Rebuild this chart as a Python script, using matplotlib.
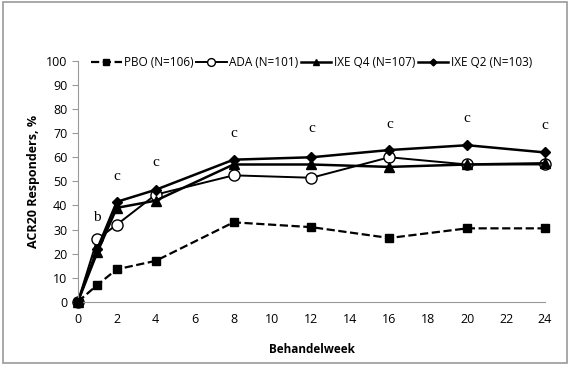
import matplotlib.pyplot as plt
from matplotlib.patches import Rectangle

# data
weeks = [0, 1, 2, 4, 8, 12, 16, 20, 24]
pbo = [0, 7, 13.5, 17, 33, 31, 26.5, 30.5, 30.5]
ada = [0, 26, 32, 44.5, 52.5, 51.5, 60, 57, 57]
ixe_q4 = [0, 20.5, 39, 42, 57, 57, 56, 57, 57.5]
ixe_q2 = [0, 22, 41.5, 46.5, 59, 60, 63, 65, 62]

sig_x = [1, 2, 4, 8, 12, 16, 20, 24]
sig_y = [35, 52, 58, 70, 72, 73.5, 76, 73]
sig_lab = ["b", "c", "c", "c", "c", "c", "c", "c"]

plt.rcParams['font.family'] = ['Open Sans', 'DejaVu Sans']

fig = plt.figure(figsize=(5.72, 3.69), dpi=100)
ax = fig.add_axes([0.136, 0.182, 0.817, 0.653])

ax.plot(weeks, pbo, color="black", ls="--", lw=1.6, marker="s", ms=6,
        label="PBO (N=106)", clip_on=False, zorder=4)
ax.plot(weeks, ada, color="black", lw=1.4, marker="o", ms=8, mfc="white",
        label="ADA (N=101)", clip_on=False)
ax.plot(weeks, ixe_q4, color="black", lw=1.8, marker="^", ms=7,
        label="IXE Q4 (N=107)", clip_on=False)
ax.plot(weeks, ixe_q2, color="black", lw=1.8, marker="D", ms=5,
        label="IXE Q2 (N=103)", clip_on=False)

for x, y, t in zip(sig_x, sig_y, sig_lab):
    ax.text(x, y, t, family="Liberation Serif", fontsize=11,
            ha="center", va="center")

ax.set_xlim(0, 24)
ax.set_ylim(0, 100)
ax.set_xticks(range(0, 25, 2))
ax.set_yticks(range(0, 101, 10))
ax.tick_params(axis="x", length=0, labelsize=9, pad=8)
ax.tick_params(axis="y", length=4, color="#999999", labelsize=9)
for s in ["top", "right"]:
    ax.spines[s].set_visible(False)
ax.spines["left"].set_color("#999999")
ax.spines["bottom"].set_color("#999999")

ax.set_xlabel("Behandelweek", fontsize=8.5, fontweight="bold", labelpad=12)
ax.set_ylabel("ACR20 Responders, %", fontsize=9, fontweight="bold")

ax.legend(loc="upper center", ncol=4, frameon=False, fontsize=8.5,
          bbox_to_anchor=(0.5, 1.04), handlelength=2.6, handletextpad=0.2,
          columnspacing=0.2, borderaxespad=0, markerscale=0.7)

fig.patches.append(Rectangle((0.005, 0.016), 0.986, 0.978, transform=fig.transFigure,
                             fill=False, edgecolor="#999999", lw=1.2))

fig.savefig("out.png", dpi=100)
